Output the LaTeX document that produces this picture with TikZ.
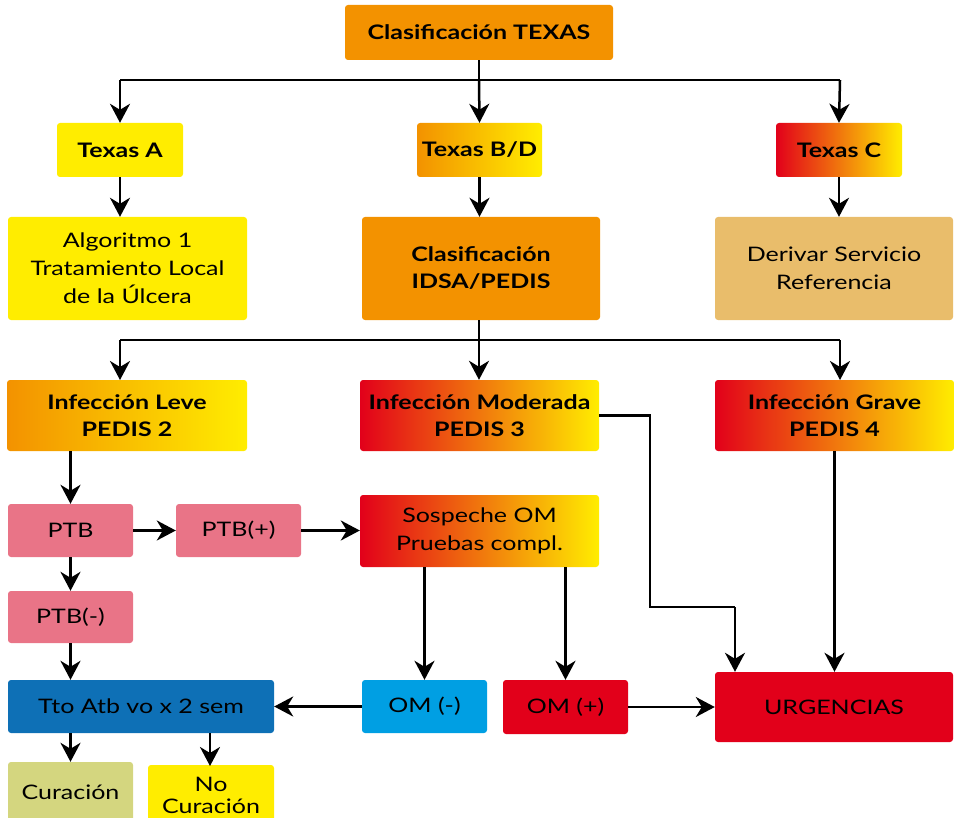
\documentclass[tikz,border=0pt]{standalone}
\usepackage{fontspec}
\setmainfont{Lato}[FakeStretch=1.25]
\usetikzlibrary{arrows.meta}
\definecolor{cOrange}{HTML}{F39200}
\definecolor{cYellow}{HTML}{FFED00}
\definecolor{cRed}{HTML}{E2001A}
\definecolor{cTan}{HTML}{E9BD6B}
\definecolor{cPink}{HTML}{E97487}
\definecolor{cDBlue}{HTML}{0E70B6}
\definecolor{cLBlue}{HTML}{009FE3}
\definecolor{cOlive}{HTML}{D4D67F}
\tikzset{
  box/.style={rectangle, rounded corners=3pt, inner sep=0pt, align=center,
    font=\fontsize{20}{28}\selectfont},
  bbox/.style={box, font=\fontsize{20}{27}\selectfont\bfseries},
  sz/.style 2 args={minimum width=#1pt, minimum height=#2pt},
  gOY/.style={shading=axis, shading angle=90, left color=cOrange, right color=cYellow},
  gROY/.style={shading=axis, shading angle=90, left color=cRed, middle color=cOrange, right color=cYellow},
  conn/.style={line width=2.5pt, draw=black},
  arr/.style={conn, -{Stealth[length=19pt,width=20pt,inset=6pt]}},
}
\begin{document}
\begin{tikzpicture}[x=1pt,y=-1pt]
\useasboundingbox (0,0) rectangle (955,818);
\clip (0,0) rectangle (955,818);
% row 1
\node[bbox, fill=cOrange, sz={268}{55}] (texas) at (479,32.5) {Clasificación TEXAS};
% row 2
\node[bbox, fill=cYellow, sz={126}{54}] (ta) at (120,150) {Texas A};
\node[bbox, gOY, sz={125}{54}] (tbd) at (479.5,150) {Texas B/D};
\node[bbox, gROY, sz={126}{54}] (tc) at (839,150) {Texas C};
% row 3
\node[box, fill=cYellow, sz={239}{103}] (alg) at (127.5,268.5) {Algoritmo 1\\Tratamiento Local\\de la Úlcera};
\node[bbox, fill=cOrange, sz={238}{103}] (idsa) at (481,268.5) {Clasificación\\IDSA/PEDIS};
\node[box, fill=cTan, sz={238}{103}] (der) at (834,268.5) {Derivar Servicio\\Referencia};
% row 4
\node[bbox, gOY, sz={240}{71}] (leve) at (127,415.5) {Infección Leve\\PEDIS 2};
\node[bbox, gROY, sz={239}{71}] (mod) at (479.5,415.5) {Infección Moderada\\PEDIS 3};
\node[bbox, gROY, sz={239}{71}] (grave) at (834.5,415.5) {Infección Grave\\PEDIS 4};
% row 5
\node[box, fill=cPink, sz={125}{53}] (ptb) at (70.5,530.5) {PTB};
\node[box, fill=cPink, sz={125}{53}] (ptbp) at (238.5,530.5) {PTB(+)};
\node[box, gROY, sz={239}{72}] (sosp) at (479.5,531) {Sospeche OM\\Pruebas compl.};
\node[box, fill=cPink, sz={125}{52}] (ptbm) at (70.5,617) {PTB(-)};
% row 6
\node[box, fill=cDBlue, sz={266}{53}] (tto) at (141,706.5) {Tto Atb vo x 2 sem};
\node[box, fill=cLBlue, sz={125}{53}] (omm) at (424.5,706.5) {OM (-)};
\node[box, fill=cRed, sz={125}{54}] (omp) at (565.5,707) {OM (+)};
\node[box, fill=cRed, sz={238}{70}] (urg) at (834,707) {URGENCIAS};
% row 7
\node[box, fill=cOlive, sz={125}{60}] (cur) at (70.5,792) {Curación};
\node[box, fill=cYellow, sz={126}{60}, font=\fontsize{20}{22}\selectfont] (nocur) at (211,795) {No\\Curación};
% helper coordinates
\coordinate (j1) at (479,80);
\coordinate (j2) at (479,340);
\coordinate (m1) at (650,415.5);
\coordinate (m2) at (650,607);
\coordinate (m3) at (735,607);
% connectors
\draw[conn] (texas.south) -- (j1);
\draw[conn] (120,80) -- (840,80);
\draw[arr] (120,80) -- (ta.north);
\draw[arr] (j1) -- (tbd.north);
\draw[arr] (840,80) -- (tc.north);
\draw[arr] (ta.south) -- (ta.south |- alg.north);
\draw[arr] (tbd.south) -- (tbd.south |- idsa.north);
\draw[arr] (tc.south) -- (tc.south |- der.north);
\draw[conn] (idsa.south -| j2) -- (j2);
\draw[conn] (120,340) -- (840,340);
\draw[arr] (120,340) -- (120,380);
\draw[arr] (j2) -- (mod.north -| j2);
\draw[arr] (840,340) -- (840,380);
\draw[arr] (leve.south -| ptb.north) -- (ptb.north);
\draw[arr] (ptb.east) -- (ptbp.west);
\draw[arr] (ptbp.east) -- (sosp.west |- ptbp.east);
\draw[arr] (ptb.south) -- (ptbm.north);
\draw[arr] (ptbm.south) -- (ptbm.south |- tto.north);
\draw[arr] (sosp.south -| omm.north) -- (omm.north);
\draw[arr] (sosp.south -| omp.north) -- (omp.north);
\draw[arr] (omm.west) -- (tto.east |- omm.west);
\draw[arr] (omp.east) -- (urg.west |- omp.east);
\draw[conn] (mod.east) -- (m1) -- (m2) -- (m3);
\draw[arr] (m3) -- (m3 |- urg.north);
\draw[arr] (grave.south) -- (grave.south |- urg.north);
\draw[arr] (tto.south -| cur.north) -- (cur.north);
\draw[arr] (tto.south -| 210,0) -- (210,766);
\end{tikzpicture}
\end{document}
